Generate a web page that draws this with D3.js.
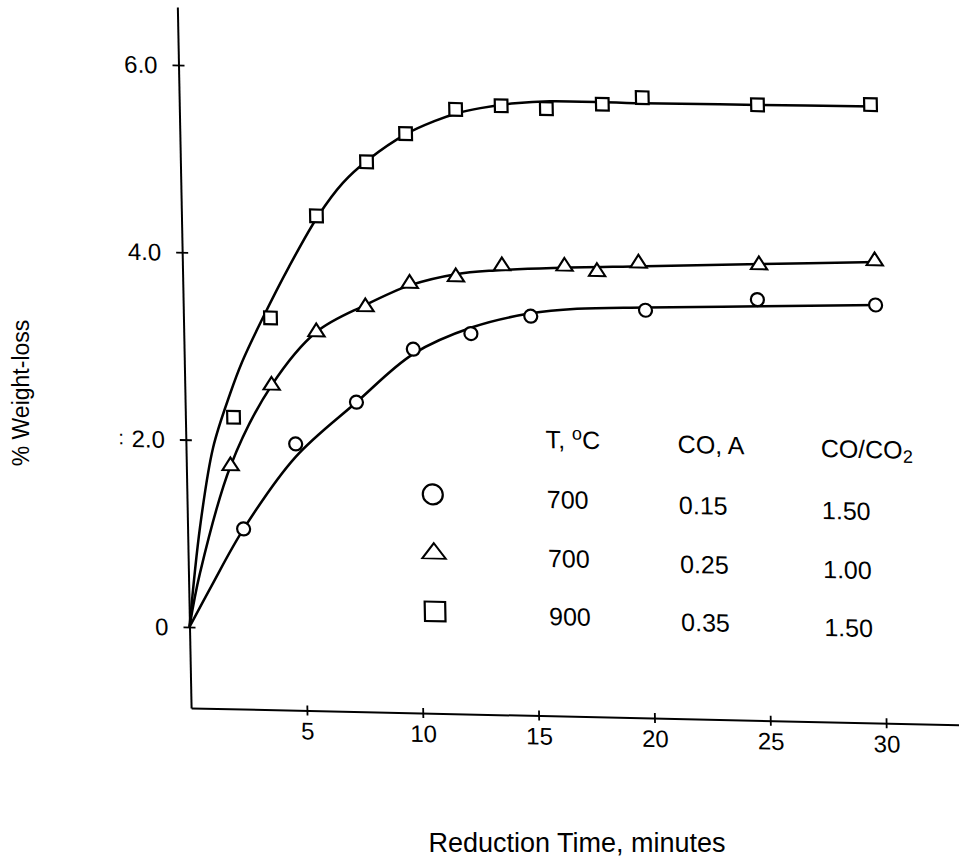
<!DOCTYPE html>
<html>
<head>
<meta charset="utf-8">
<script src="https://cdn.jsdelivr.net/npm/d3@7"></script>
<style>
  html, body { margin: 0; padding: 0; background: #fff; }
  svg { display: block; font-family: "Liberation Sans", Arial, Helvetica, sans-serif; }
</style>
</head>
<body>
<svg id="chart" width="959" height="866"></svg>
<script>
// measured points (minutes, % weight-loss)
var circleTimes  = [2.42, 4.74, 7.40, 9.9, 12.4, 15.0, 19.96, 24.8, 29.9];
var circleValues = [1.06, 1.98, 2.44, 3.02, 3.20, 3.40, 3.49, 3.63, 3.60];
var triTimes  = [1.91, 3.75, 5.73, 7.87, 9.8, 11.8, 13.8, 16.5, 17.9, 19.7, 24.9, 29.9];
var triValues = [1.73, 2.60, 3.18, 3.46, 3.72, 3.80, 3.93, 3.94, 3.89, 3.99, 4.00, 4.07];
var sqTimes  = [2.08, 3.76, 5.83, 8.04, 9.75, 11.93, 13.9, 15.85, 18.27, 20.0, 24.97, 29.85];
var sqValues = [2.25, 3.32, 4.42, 5.01, 5.32, 5.59, 5.64, 5.62, 5.68, 5.76, 5.71, 5.74];

// hand drawn fit curves
var circleFitT = [0, 1.0, 2.42, 4.72, 7.4, 9.9, 12.5, 15.0, 17.0, 20.0, 25.0, 30.0];
var circleFitV = [0, 0.45, 1.06, 1.84, 2.44, 2.97, 3.27, 3.43, 3.49, 3.52, 3.56, 3.60];
var triFitT = [0, 0.5, 1.91, 3.75, 5.73, 7.87, 9.8, 11.8, 13.5, 16.0, 20.0, 25.0, 30.0];
var triFitV = [0, 0.58, 1.73, 2.60, 3.18, 3.48, 3.70, 3.83, 3.88, 3.92, 3.96, 4.01, 4.06];
var sqFitT = [0, 0.54, 1.17, 1.95, 2.49, 3.43, 4.6, 5.9, 7.0, 8.1, 9.8, 11.0, 12.0, 13.0, 14.5, 16.0, 20.0, 25.0, 30.0];
var sqFitV = [0, 1.07, 1.92, 2.50, 2.84, 3.32, 3.87, 4.42, 4.78, 5.03, 5.32, 5.46, 5.55, 5.61, 5.67, 5.70, 5.70, 5.71, 5.72];

var xTicks = [5, 10, 15, 20, 25, 30];
var yTicks = [0, 2, 4, 6];

var legendT = ["700", "700", "900"];
var legendCO = ["0.15", "0.25", "0.35"];
var legendRatio = ["1.50", "1.00", "1.50"];

var svg = d3.select("#chart");
var font = "'Liberation Sans', Arial, Helvetica, sans-serif";

// the scanned figure is slightly sheared, so the plot lives in a skewed frame
var frame = svg.append("g")
  .attr("transform", "matrix(1,0.022,0.0196,1,189.5,627)");

var x = d3.scaleLinear().domain([0, 34]).range([0, 34 * 23.167]);
var y = d3.scaleLinear().domain([-0.864, 6.62]).range([80.9, -620.1]);

// y axis
var yAxis = frame.append("g")
  .call(d3.axisLeft(y)
    .tickValues(yTicks)
    .tickSizeInner(6)
    .tickSizeOuter(0)
    .tickPadding(15)
    .tickFormat(function (d) { return d === 0 ? "0" : d.toFixed(1); }));
yAxis.select(".domain").attr("stroke", "#000").attr("stroke-width", 2);
yAxis.selectAll(".tick line").attr("x1", 6).attr("stroke-width", 1.8);
yAxis.selectAll(".tick text")
  .attr("font-family", font).attr("font-size", 24).attr("fill", "#000")
  .attr("dy", "0.34em");

// stray mark beside 2.0 in the scan
frame.append("text")
  .attr("x", -62).attr("y", y(2) + 6)
  .attr("text-anchor", "end")
  .attr("font-family", font).attr("font-size", 20)
  .text(":");

// x axis
var xAxis = frame.append("g")
  .attr("transform", "translate(0," + y(-0.864) + ")")
  .call(d3.axisBottom(x)
    .tickValues(xTicks)
    .tickSizeInner(5)
    .tickSizeOuter(0)
    .tickPadding(0));
xAxis.select(".domain").attr("stroke", "#000").attr("stroke-width", 2);
xAxis.selectAll(".tick line").attr("y1", -5).attr("stroke-width", 1.8);
xAxis.selectAll(".tick text")
  .attr("font-family", font).attr("font-size", 24).attr("fill", "#000")
  .attr("y", 29).attr("dy", null);

// curves
var line = d3.line()
  .x(function (d) { return x(d[0]); })
  .y(function (d) { return y(d[1]); })
  .curve(d3.curveCatmullRom.alpha(0.5));

function zip(a, b) {
  return a.map(function (v, i) { return [v, b[i]]; });
}

[[circleFitT, circleFitV], [triFitT, triFitV], [sqFitT, sqFitV]].forEach(function (c) {
  frame.append("path")
    .datum(zip(c[0], c[1]))
    .attr("d", line)
    .attr("fill", "none")
    .attr("stroke", "#000")
    .attr("stroke-width", 2.5);
});

// markers
function drawMarkers(times, values, type, size, sy) {
  frame.append("g").selectAll("path")
    .data(zip(times, values))
    .enter()
    .append("path")
    .attr("transform", function (d) {
      return "translate(" + x(d[0]) + "," + y(d[1]) + ") scale(1," + sy + ")";
    })
    .attr("d", d3.symbol().type(type).size(size))
    .attr("fill", "#fff")
    .attr("stroke", "#000")
    .attr("stroke-width", 2.2);
}
drawMarkers(circleTimes, circleValues, d3.symbolCircle, 133, 1);
drawMarkers(triTimes, triValues, d3.symbolTriangle, 115, 0.9);
drawMarkers(sqTimes, sqValues, d3.symbolSquare, 160, 1);

// legend
var legend = frame.append("g").attr("font-family", font).attr("font-size", 25).attr("fill", "#000");
var cols = [360, 492, 635];
var headerY = -187;
var rowY = [-127, -68, -10];

var h1 = legend.append("text").attr("x", cols[0]).attr("y", headerY);
h1.append("tspan").text("T, ");
h1.append("tspan").attr("font-size", 18).attr("dy", -9).text("o");
h1.append("tspan").attr("dy", 9).text("C");
legend.append("text").attr("x", cols[1]).attr("y", headerY + 2).text("CO, A");
var h3 = legend.append("text").attr("x", cols[2]).attr("y", headerY + 3);
h3.append("tspan").text("CO/CO");
h3.append("tspan").attr("font-size", 18).attr("dy", 4).text("2");

var symbols = [[d3.symbolCircle, 314, 1], [d3.symbolTriangle, 240, 0.75], [d3.symbolSquare, 420, 0.95]];
rowY.forEach(function (ry, i) {
  legend.append("path")
    .attr("transform", "translate(246," + (ry - 11) + ") scale(1," + symbols[i][2] + ")")
    .attr("d", d3.symbol().type(symbols[i][0]).size(symbols[i][1]))
    .attr("fill", "#fff")
    .attr("stroke", "#000")
    .attr("stroke-width", 2.2);
  legend.append("text").attr("x", cols[0]).attr("y", ry).text(legendT[i]);
  legend.append("text").attr("x", cols[1]).attr("y", ry + 3).text(legendCO[i]);
  legend.append("text").attr("x", cols[2]).attr("y", ry + 5).text(legendRatio[i]);
});

// axis titles
svg.append("text")
  .attr("transform", "translate(29,393) rotate(-90)")
  .attr("text-anchor", "middle")
  .attr("font-family", font).attr("font-size", 23)
  .text("% Weight-loss");

svg.append("text")
  .attr("x", 577).attr("y", 852)
  .attr("text-anchor", "middle")
  .attr("font-family", font).attr("font-size", 27)
  .text("Reduction Time, minutes");
</script>
</body>
</html>
